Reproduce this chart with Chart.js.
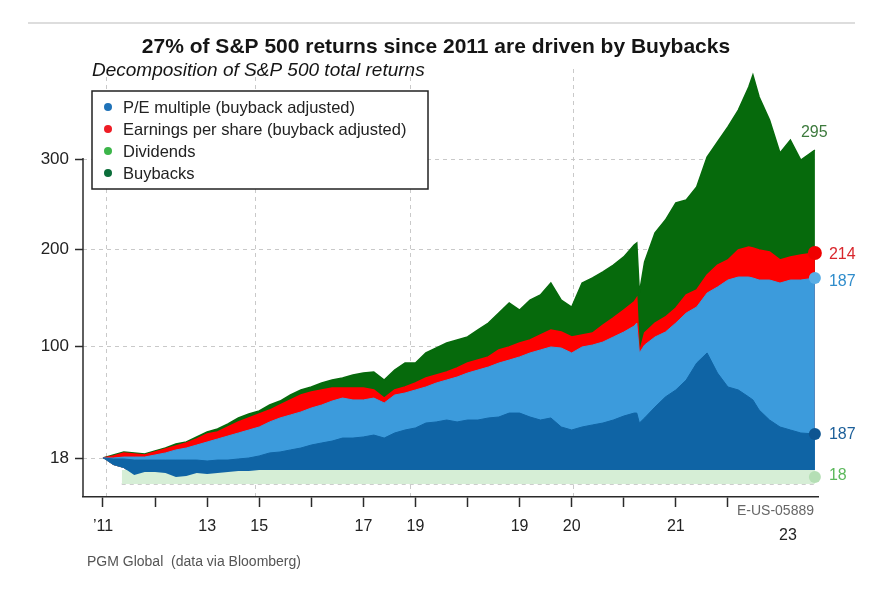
<!DOCTYPE html>
<html><head><meta charset="utf-8">
<script src="https://cdn.jsdelivr.net/npm/chart.js@4.4.1/dist/chart.umd.min.js"></script>
<style>html,body{margin:0;padding:0;background:#fff;}#wrap{width:890px;height:614px;position:relative;}</style>
</head><body><div id="wrap"><canvas id="c" width="890" height="614"></canvas></div>
<script>
// ---------- data ----------
const periods = [0,0.2,0.4,0.6,0.8,1,1.2,1.4,1.6,1.8,2,2.2,2.4,2.6,2.8,3,3.2,3.4,3.6,3.8,4,4.2,4.4,4.6,4.8,5,5.2,5.4,5.6,5.8,6,6.2,6.4,6.6,6.8,7,7.2,7.4,7.6,7.8,8,8.2,8.4,8.6,8.8,9,9.2,9.4,9.6,9.8,10,10.2,10.25,10.3,10.4,10.6,10.8,11,11.2,11.4,11.6,11.8,12,12.2,12.4,12.48,12.6,12.8,13,13.2,13.4,13.67];
const buybacks = [18,20.2,22.4,21.7,20.9,23.1,25.3,28.2,29.7,33.4,37,39.2,42.9,47.3,50.2,52.4,56.8,59.7,64.1,67.8,70,72.9,75.1,76.6,78.8,80.2,81,75.1,82.4,87.5,87.5,94.9,98.5,103.1,106.2,109.3,116.5,123.7,134,144.3,137.1,147.4,152.6,164.9,147.4,140.2,164.9,170.1,176.3,183.5,191.8,204.4,206.7,154.6,186.6,217.8,232.2,251.1,254.4,268.9,302.2,318.9,335.6,354.4,380,393.3,368.9,343.3,306.7,321.1,298.9,310];
const eps = [18,19.5,21.7,20.9,20.2,22.4,24.6,26.8,29,31.9,35.6,37,40.7,44.4,47.3,50.2,53.1,56.8,60.5,64.1,66.3,67.8,69.2,69.2,69.2,69.2,67.8,61.9,67.8,70,72.9,76.6,78.8,81,83.9,87.5,89.7,92,97.1,99.3,103.1,106.2,111.3,116.5,114.4,109.3,111.3,113.4,121.6,128.9,137.1,145.4,149.5,94.9,113.4,123.7,129.9,139.2,152.6,157.7,173.2,183.5,188.7,199,202.2,201.1,199,196.9,188.7,191.8,193.8,195.9];
const peTotal = [18,18,18.7,18.7,18.7,20.2,21.7,23.9,25.3,27.5,29.7,31.9,34.1,36.3,38.5,40.7,44.4,47.3,49.5,51.7,54.6,56.8,59.7,61.9,60.5,60.5,61.9,58.3,64.1,65.6,67.8,70,72.9,75.1,77.3,80.2,82.4,84.6,87.5,89.7,92,94.9,97.1,99.3,98.5,94.9,99.3,101,104.1,109.3,114.4,120.6,123.7,94.9,101,109.3,114.4,123.7,134,140.2,154.6,160.8,168,171.1,171.1,170.1,168,168,164.9,168,168,170.1];
const peMultiple = [18,17.3,17.3,16.5,16.5,16.5,16.5,16.5,16.5,16.5,15.8,16.5,16.5,17.3,18,19.5,21.7,22.4,23.9,25.3,27.5,29,30.4,32.6,32.6,33.4,34.8,32.6,36.3,38.5,40,43.6,44.4,45.8,44.4,45.8,45.8,47.3,48,50.9,50.9,48,45.8,47.3,40.7,38.5,40.7,42.2,43.6,45.8,48.7,50.9,50.9,43.6,47.3,55.3,62.7,67.8,75.1,87.5,94.9,80.2,70,67.8,62.7,60.5,53.1,45.8,40.7,38.5,36.3,35.6];
const peLow = [18,12.9,10.7,5.6,7.8,7.8,7,4.1,4.8,7,6.3,7,7.8,8.5,8.5,9.2,9.2,9.2,9.2,9.2,9.2,9.2,9.2,9.2,9.2,9.2,9.2,9.2,9.2,9.2,9.2,9.2,9.2,9.2,9.2,9.2,9.2,9.2,9.2,9.2,9.2,9.2,9.2,9.2,9.2,9.2,9.2,9.2,9.2,9.2,9.2,9.2,9.2,9.2,9.2,9.2,9.2,9.2,9.2,9.2,9.2,9.2,9.2,9.2,9.2,9.2,9.2,9.2,9.2,9.2,9.2,9.2];
const dividendPeriods = [0.36, 13.67];
const dividendsTop = [9.2, 9.2];
const dividendsBase = [-1, -1];

const xTickValues = [0,1,2,3,4,5,6,7,8,9,10,11,12];
const xTickLabels = ["\u201911","","13","15","","17","19","","19","20","","21",""];
const xGridValues = [0.06, 2.92, 5.91, 9.04];
const yTickValues = [18, 100, 200, 300];
const yTickLabels = ["18", "100", "200", "300"];

const legendLabels = ["P/E multiple (buyback adjusted)", "Earnings per share (buyback adjusted)", "Dividends", "Buybacks"];
const legendColors = ["#1f72b8", "#ee1c25", "#3cb54a", "#0b6e3a"];
const endLabels = {buybacks: "295", eps: "214", peTotal: "187", peMultiple: "187", dividends: "18"};

const titleText = "27% of S&P 500 returns since 2011 are driven by Buybacks";
const subtitleText = "Decomposition of S&P 500 total returns";
const sourceText = "PGM Global  (data via Bloomberg)";
const codeText = "E-US-05889";
const lastYearLabel = "23";

// ---------- piecewise vertical scale (axis spacing of the original) ----------
class PiecewiseScale extends Chart.LinearScale {
  getPixelForValue(value) {
    const k = this.options.knots, w = this.options.weights;
    const total = w.reduce((a, b) => a + b, 0);
    let i = 0;
    while (i < k.length - 2 && value > k[i + 1]) i++;
    let acc = 0;
    for (let j = 0; j < i; j++) acc += w[j];
    acc += w[i] * (value - k[i]) / (k[i + 1] - k[i]);
    return this.getPixelForDecimal(acc / total);
  }
  getValueForPixel(pixel) {
    const k = this.options.knots, w = this.options.weights;
    const total = w.reduce((a, b) => a + b, 0);
    let d = this.getDecimalForPixel(pixel) * total;
    let i = 0;
    while (i < w.length - 1 && d > w[i]) { d -= w[i]; i++; }
    return k[i] + d / w[i] * (k[i + 1] - k[i]);
  }
}
PiecewiseScale.id = 'piecewise';
PiecewiseScale.defaults = Chart.LinearScale.defaults;
Chart.register(PiecewiseScale);

const FONT = '"Liberation Sans", Arial, Helvetica, sans-serif';
const pts = (xs, ys) => xs.map((x, i) => ({x: x, y: ys[i]}));
const lastDot = (r) => (ctx) => ctx.dataIndex === ctx.dataset.data.length - 1 ? r : 0;

const datasets = [
  { label: 'P/E multiple', data: pts(periods, peMultiple), order: 0, fill: 1, clip: false,
    backgroundColor: '#0f64a5', borderColor: '#0f64a5', borderWidth: 1,
    pointRadius: lastDot(6), pointBackgroundColor: '#0e5591', pointBorderWidth: 0 },
  { label: 'pe low', data: pts(periods, peLow), order: 1, fill: false,
    borderWidth: 0, borderColor: 'rgba(0,0,0,0)', pointRadius: 0 },
  { label: 'Dividends', data: pts(dividendPeriods, dividendsTop), order: 2, fill: 3,
    backgroundColor: '#d6eed6', borderColor: '#d6eed6', borderWidth: 0, pointRadius: 0 },
  { label: 'div base', data: pts(dividendPeriods, dividendsBase), order: 3, fill: false,
    borderColor: '#9a9a9a', borderWidth: 1, borderDash: [4, 4], pointRadius: 0 },
  { label: 'P/E total', data: pts(periods, peTotal), order: 4, fill: 1, clip: false,
    backgroundColor: '#3c9bdc', borderColor: '#3c9bdc', borderWidth: 1,
    pointRadius: lastDot(6), pointBackgroundColor: '#5aaee6', pointBorderWidth: 0 },
  { label: 'Earnings per share', data: pts(periods, eps), order: 5, fill: 1, clip: false,
    backgroundColor: '#ff0000', borderColor: '#ff0000', borderWidth: 1.5,
    pointRadius: lastDot(7), pointBackgroundColor: '#f00000', pointBorderWidth: 0 },
  { label: 'Buybacks', data: pts(periods, buybacks), order: 6, fill: 1,
    backgroundColor: '#066a0c', borderColor: '#066a0c', borderWidth: 1.5, pointRadius: 0 }
];

const decor = {
  id: 'decor',
  afterDraw(chart) {
    const {ctx, chartArea: a, scales: {y}} = chart;
    ctx.save();
    // top rule
    ctx.strokeStyle = '#d2d2d2'; ctx.lineWidth = 1.5;
    ctx.beginPath(); ctx.moveTo(28, 23); ctx.lineTo(855, 23); ctx.stroke();
    // titles
    ctx.fillStyle = '#151515'; ctx.textBaseline = 'middle';
    ctx.font = 'bold 21px ' + FONT; ctx.textAlign = 'center';
    ctx.fillText(titleText, 436, 47);
    ctx.font = 'italic 19px ' + FONT; ctx.textAlign = 'left';
    ctx.fillText(subtitleText, 92, 71);
    // source
    ctx.font = '14px ' + FONT; ctx.fillStyle = '#555';
    ctx.fillText(sourceText, 87, 562);
    // y axis line (from top tick to the bottom)
    ctx.strokeStyle = '#2a2a2a'; ctx.lineWidth = 1.5;
    ctx.beginPath();
    ctx.moveTo(a.left, y.getPixelForValue(yTickValues[yTickValues.length - 1]) - 1);
    ctx.lineTo(a.left, a.bottom); ctx.stroke();
    // legend box
    ctx.fillStyle = '#fff'; ctx.fillRect(92, 91, 336, 98);
    ctx.strokeStyle = '#222'; ctx.lineWidth = 1.5; ctx.strokeRect(92, 91, 336, 98);
    ctx.font = '16.5px ' + FONT; ctx.textAlign = 'left';
    legendLabels.forEach((t, i) => {
      const yy = 107 + i * 22;
      ctx.fillStyle = legendColors[i];
      ctx.beginPath(); ctx.arc(108, yy, 4, 0, Math.PI * 2); ctx.fill();
      ctx.fillStyle = '#222'; ctx.fillText(t, 123, yy + 1);
    });
    // end labels
    const last = (i) => { const d = chart.getDatasetMeta(i).data; return d[d.length - 1]; };
    ctx.font = '16px ' + FONT; ctx.textAlign = 'left';
    let p = last(6); ctx.fillStyle = '#3d7a3d'; ctx.fillText(endLabels.buybacks, p.x - 14, p.y - 17);
    p = last(5); ctx.fillStyle = '#d9262c'; ctx.fillText(endLabels.eps, p.x + 14, p.y + 2);
    p = last(4); ctx.fillStyle = '#2f8ccb'; ctx.fillText(endLabels.peTotal, p.x + 14, p.y + 4);
    p = last(0); ctx.fillStyle = '#1c5f99'; ctx.fillText(endLabels.peMultiple, p.x + 14, p.y + 1);
    const dt = last(2), db = last(3);
    const my = (dt.y + db.y) / 2;
    ctx.fillStyle = '#b5dfb5'; ctx.beginPath(); ctx.arc(dt.x, my, 6, 0, Math.PI * 2); ctx.fill();
    ctx.fillStyle = '#5cb85c'; ctx.fillText(endLabels.dividends, dt.x + 14, my - 1);
    // extra axis annotations
    ctx.fillStyle = '#222'; ctx.font = '16px ' + FONT; ctx.textAlign = 'center';
    ctx.fillText(lastYearLabel, 788, 536);
    ctx.fillStyle = '#666'; ctx.font = '14px ' + FONT; ctx.textAlign = 'right';
    ctx.fillText(codeText, 814, 511);
    ctx.restore();
  }
};

new Chart(document.getElementById('c'), {
  type: 'line',
  data: { datasets: datasets },
  options: {
    responsive: false, animation: false,
    layout: { padding: { top: 69, right: 72, left: 0, bottom: 0 } },
    elements: { line: { tension: 0 } },
    plugins: { legend: { display: false }, tooltip: { enabled: false } },
    scales: {
      x: {
        type: 'linear', min: -0.384, max: 13.73, position: 'bottom',
        afterBuildTicks: (s) => { s.ticks = xTickValues.map(v => ({value: v})); },
        afterFit: (s) => { s.height = 117; },
        ticks: { autoSkip: false, maxRotation: 0, padding: 10, color: '#222',
          font: { family: FONT, size: 16 }, callback: (v, i) => xTickLabels[i] },
        grid: { drawOnChartArea: false, drawTicks: true, tickLength: 10, tickWidth: 1.5, tickColor: '#2a2a2a' },
        border: { display: true, color: '#2a2a2a', width: 1.5 }
      },
      xg: {
        type: 'linear', min: -0.384, max: 13.73, position: 'top',
        afterBuildTicks: (s) => { s.ticks = xGridValues.map(v => ({value: v})); },
        afterFit: (s) => { s.height = 0; },
        ticks: { display: false },
        grid: { drawTicks: false, color: '#c9c9c9', lineWidth: 1 },
        border: { display: false, dash: [4, 4] }
      },
      y: {
        type: 'piecewise', min: -10.5, max: 400,
        knots: [-10.5, 18, 100, 200, 300, 400], weights: [39, 112, 97, 90, 90],
        afterBuildTicks: (s) => { s.ticks = yTickValues.map(v => ({value: v})); },
        afterFit: (s) => { s.width = 83; },
        ticks: { padding: 6, color: '#222', font: { family: FONT, size: 17 },
          callback: (v, i) => yTickLabels[i] },
        grid: { color: '#c9c9c9', lineWidth: 1, tickLength: 8, tickWidth: 1.5, tickColor: '#2a2a2a', tickBorderDash: [] },
        border: { display: false, dash: [4, 4] }
      }
    }
  },
  plugins: [decor]
});
</script>
</body></html>
